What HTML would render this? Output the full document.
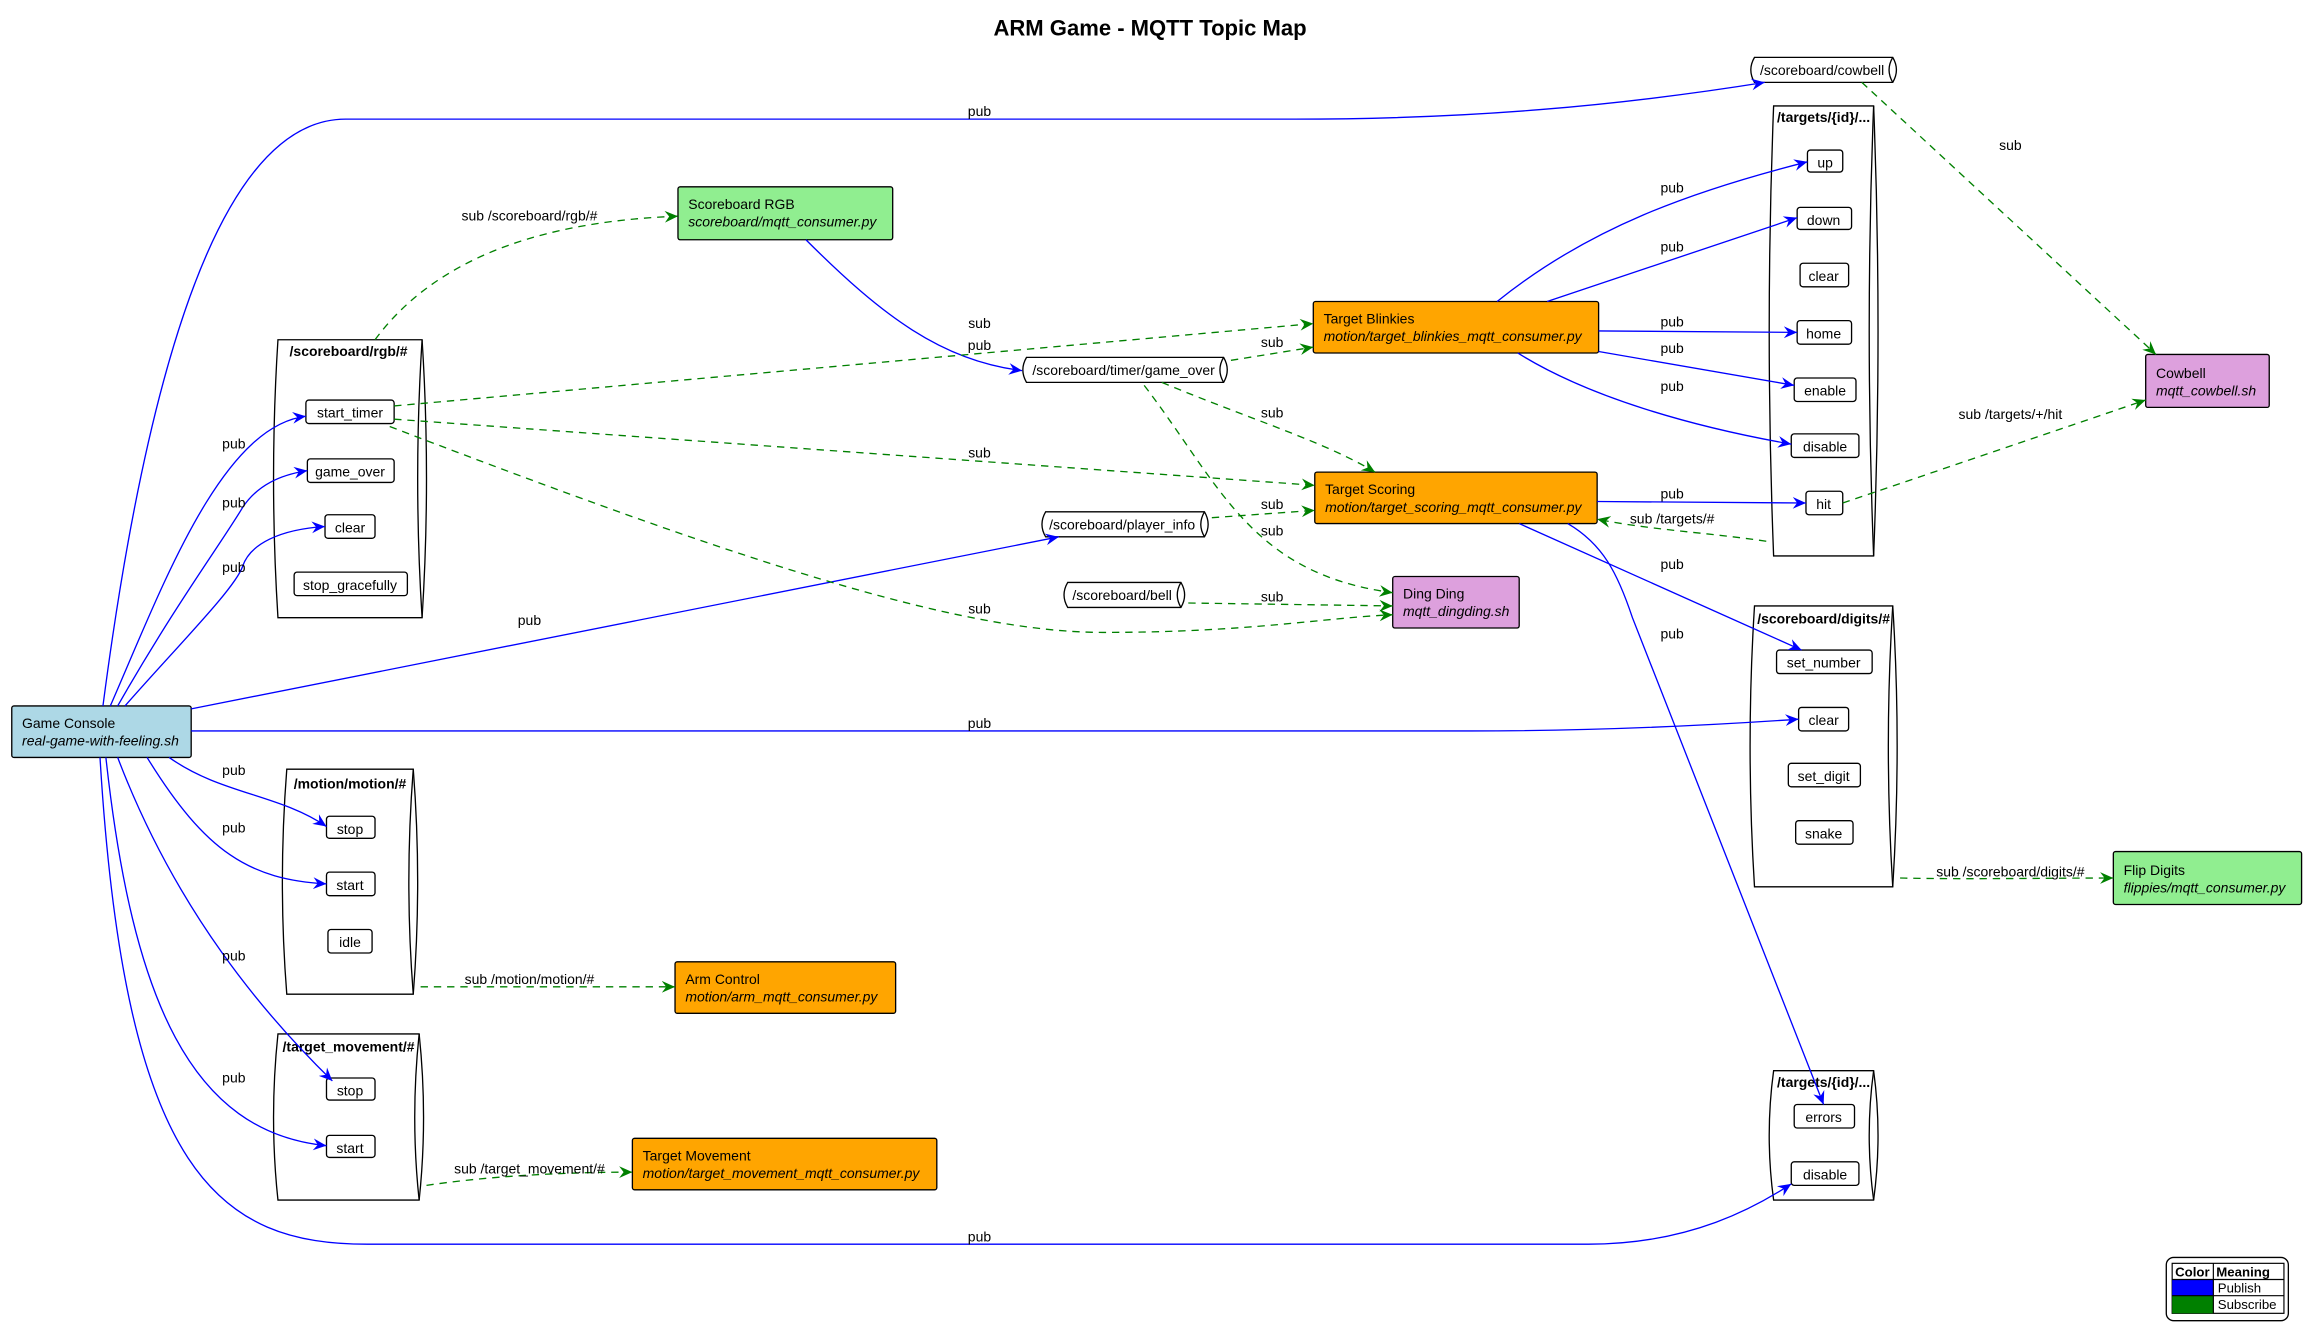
<!DOCTYPE html>
<html><head><meta charset="utf-8"><style>
html,body{margin:0;padding:0;background:#fff;width:2306px;height:1331px;overflow:hidden}
svg{display:block}
text{font-family:"Liberation Sans",sans-serif;font-size:9.5px;fill:#000}
.b{font-weight:bold}
.i{font-style:italic}
.pub{fill:none;stroke:#0000ff;stroke-width:0.9;marker-end:url(#ab)}
.sub{fill:none;stroke:#008000;stroke-width:0.9;stroke-dasharray:5,4;marker-end:url(#ag)}
.box{fill:#fff;stroke:#000;stroke-width:0.9}
.q{fill:#fff;stroke:#000;stroke-width:0.9}
</style></head><body>
<svg width="2306" height="1331" viewBox="0 0 1568 905" xmlns="http://www.w3.org/2000/svg">
<defs>
<marker id="ab" markerWidth="10" markerHeight="10" refX="9" refY="5" orient="auto" markerUnits="userSpaceOnUse"><path d="M0,1 L9,5 L0,9 L3,5 Z" fill="#0000ff"/></marker>
<marker id="ag" markerWidth="10" markerHeight="10" refX="9" refY="5" orient="auto" markerUnits="userSpaceOnUse"><path d="M0,1 L9,5 L0,9 L3,5 Z" fill="#008000"/></marker>
</defs>
<rect width="1568" height="905" fill="#fff"/>
<text x="782" y="24" text-anchor="middle" class="b" style="font-size:15px">ARM Game - MQTT Topic Map</text>

<g>
<path class="q" d="M189,231 L287,231 Q293,325 287,420 L189,420 Q183,325 189,231 Z"/><path class="q" d="M287,231 Q281,325 287,420"/>
<text x="237" y="242" text-anchor="middle" class="b">/scoreboard/rgb/#</text>

<path class="q" d="M1206,72 L1274,72 Q1280,225 1274,378 L1206,378 Q1200,225 1206,72 Z"/><path class="q" d="M1274,72 Q1268,225 1274,378"/>
<text x="1240" y="83" text-anchor="middle" class="b">/targets/{id}/...</text>

<path class="q" d="M1193,412 L1287,412 Q1293,507 1287,603 L1193,603 Q1187,507 1193,412 Z"/><path class="q" d="M1287,412 Q1281,507 1287,603"/>
<text x="1240" y="424" text-anchor="middle" class="b">/scoreboard/digits/#</text>

<path class="q" d="M195,523 L281,523 Q287,600 281,676 L195,676 Q189,600 195,523 Z"/><path class="q" d="M281,523 Q275,600 281,676"/>
<text x="238" y="536" text-anchor="middle" class="b">/motion/motion/#</text>

<path class="q" d="M189,703 L285,703 Q291,760 285,816 L189,816 Q183,760 189,703 Z"/><path class="q" d="M285,703 Q279,760 285,816"/>
<text x="237" y="715" text-anchor="middle" class="b">/target_movement/#</text>

<path class="q" d="M1206,728 L1274,728 Q1280,772 1274,816 L1206,816 Q1200,772 1206,728 Z"/><path class="q" d="M1274,728 Q1268,772 1274,816"/>
<text x="1240" y="739" text-anchor="middle" class="b">/targets/{id}/...</text>
</g>

<g>
<path class="q" d="M1193,39 L1287,39 Q1292,47.5 1287,56 L1193,56 Q1188,47.5 1193,39 Z"/><path class="q" d="M1287,39 Q1282,47.5 1287,56"/>
<text x="1239" y="51" text-anchor="middle">/scoreboard/cowbell</text>
<path class="q" d="M698,243 L832,243 Q837,251.5 832,260 L698,260 Q693,251.5 698,243 Z"/><path class="q" d="M832,243 Q827,251.5 832,260"/>
<text x="764" y="255" text-anchor="middle">/scoreboard/timer/game_over</text>
<path class="q" d="M711,348 L819,348 Q824,356.5 819,365 L711,365 Q706,356.5 711,348 Z"/><path class="q" d="M819,348 Q814,356.5 819,365"/>
<text x="763" y="360" text-anchor="middle">/scoreboard/player_info</text>
<path class="q" d="M726,396 L803,396 Q808,404.5 803,413 L726,413 Q721,404.5 726,396 Z"/><path class="q" d="M803,396 Q798,404.5 803,413"/>
<text x="763" y="408" text-anchor="middle">/scoreboard/bell</text>
</g>

<g>
<rect class="box" x="208" y="272" width="60" height="16" rx="2"/><text x="238" y="284" text-anchor="middle">start_timer</text>
<rect class="box" x="209" y="312" width="59" height="16" rx="2"/><text x="238" y="324" text-anchor="middle">game_over</text>
<rect class="box" x="221" y="350" width="34" height="16" rx="2"/><text x="238" y="362" text-anchor="middle">clear</text>
<rect class="box" x="200" y="389" width="77" height="16" rx="2"/><text x="238" y="401" text-anchor="middle">stop_gracefully</text>

<rect class="box" x="1229" y="102" width="24" height="15" rx="2"/><text x="1241" y="114" text-anchor="middle">up</text>
<rect class="box" x="1222" y="141" width="37" height="15" rx="2"/><text x="1240" y="153" text-anchor="middle">down</text>
<rect class="box" x="1224" y="179" width="33" height="16" rx="2"/><text x="1240" y="191" text-anchor="middle">clear</text>
<rect class="box" x="1222" y="218" width="37" height="16" rx="2"/><text x="1240" y="230" text-anchor="middle">home</text>
<rect class="box" x="1220" y="257" width="42" height="16" rx="2"/><text x="1241" y="269" text-anchor="middle">enable</text>
<rect class="box" x="1218" y="295" width="46" height="16" rx="2"/><text x="1241" y="307" text-anchor="middle">disable</text>
<rect class="box" x="1228" y="334" width="25" height="16" rx="2"/><text x="1240" y="346" text-anchor="middle">hit</text>

<rect class="box" x="1208" y="442" width="65" height="16" rx="2"/><text x="1240" y="454" text-anchor="middle">set_number</text>
<rect class="box" x="1223" y="481" width="34" height="16" rx="2"/><text x="1240" y="493" text-anchor="middle">clear</text>
<rect class="box" x="1216" y="519" width="49" height="16" rx="2"/><text x="1240" y="531" text-anchor="middle">set_digit</text>
<rect class="box" x="1221" y="558" width="39" height="16" rx="2"/><text x="1240" y="570" text-anchor="middle">snake</text>

<rect class="box" x="222" y="555" width="33" height="15" rx="2"/><text x="238" y="567" text-anchor="middle">stop</text>
<rect class="box" x="222" y="593" width="33" height="16" rx="2"/><text x="238" y="605" text-anchor="middle">start</text>
<rect class="box" x="223" y="632" width="30" height="16" rx="2"/><text x="238" y="644" text-anchor="middle">idle</text>

<rect class="box" x="222" y="733" width="33" height="15" rx="2"/><text x="238" y="745" text-anchor="middle">stop</text>
<rect class="box" x="222" y="772" width="33" height="15" rx="2"/><text x="238" y="784" text-anchor="middle">start</text>

<rect class="box" x="1220" y="751" width="41" height="16" rx="2"/><text x="1240" y="763" text-anchor="middle">errors</text>
<rect class="box" x="1218" y="790" width="46" height="16" rx="2"/><text x="1241" y="802" text-anchor="middle">disable</text>
</g>

<g stroke="#000" stroke-width="0.9">
<rect x="8" y="480" width="122" height="35" fill="#ADD8E6" rx="1.5"/>
<rect x="461" y="127" width="146" height="36" fill="#90EE90" rx="1.5"/>
<rect x="893" y="205" width="194" height="35" fill="#FFA500" rx="1.5"/>
<rect x="894" y="321" width="192" height="35" fill="#FFA500" rx="1.5"/>
<rect x="947" y="392" width="86" height="35" fill="#DDA0DD" rx="1.5"/>
<rect x="1459" y="241" width="84" height="36" fill="#DDA0DD" rx="1.5"/>
<rect x="1437" y="579" width="128" height="36" fill="#90EE90" rx="1.5"/>
<rect x="459" y="654" width="150" height="35" fill="#FFA500" rx="1.5"/>
<rect x="430" y="774" width="207" height="35" fill="#FFA500" rx="1.5"/>
</g>
<g>
<text x="15" y="495">Game Console</text><text x="15" y="507" class="i">real-game-with-feeling.sh</text>
<text x="468" y="142">Scoreboard RGB</text><text x="468" y="154" class="i">scoreboard/mqtt_consumer.py</text>
<text x="900" y="220">Target Blinkies</text><text x="900" y="232" class="i">motion/target_blinkies_mqtt_consumer.py</text>
<text x="901" y="336">Target Scoring</text><text x="901" y="348" class="i">motion/target_scoring_mqtt_consumer.py</text>
<text x="954" y="407">Ding Ding</text><text x="954" y="419" class="i">mqtt_dingding.sh</text>
<text x="1466" y="257">Cowbell</text><text x="1466" y="269" class="i">mqtt_cowbell.sh</text>
<text x="1444" y="595">Flip Digits</text><text x="1444" y="607" class="i">flippies/mqtt_consumer.py</text>
<text x="466" y="669">Arm Control</text><text x="466" y="681" class="i">motion/arm_mqtt_consumer.py</text>
<text x="437" y="789">Target Movement</text><text x="437" y="801" class="i">motion/target_movement_mqtt_consumer.py</text>
</g>

<path class="pub" d="M70,480 C100,250 150,81 235,81 L880,81 C1000,81 1100,72 1200,56"/>
<path class="pub" d="M75,480 C110,400 150,290 208,283"/>
<path class="pub" d="M80,480 C120,410 150,370 165,345 C175,330 190,323 209,320"/>
<path class="pub" d="M85,480 C120,440 160,400 165,385 C170,370 190,360 221,358"/>
<path class="pub" d="M130,482 L720,365"/>
<path class="pub" d="M130,497 L1000,497 C1100,497 1180,492 1223,489"/>
<path class="pub" d="M115,515 C150,540 190,540 222,562"/>
<path class="pub" d="M100,515 C140,580 170,598 222,601"/>
<path class="pub" d="M80,515 C120,620 180,690 226,735"/>
<path class="pub" d="M72,515 C90,680 130,770 222,779"/>
<path class="pub" d="M68,515 C85,800 150,846 250,846 L1080,846 C1150,846 1195,820 1218,805"/>
<path class="pub" d="M548,163 C600,215 640,245 695,252"/>
<path class="pub" d="M1018,205 C1080,155 1150,130 1229,110"/>
<path class="pub" d="M1052,205 L1222,148"/>
<path class="pub" d="M1087,225 L1222,226"/>
<path class="pub" d="M1087,239 L1220,262"/>
<path class="pub" d="M1032,240 C1080,270 1150,290 1218,302"/>
<path class="pub" d="M1086,341 L1228,342"/>
<path class="pub" d="M1033,356 L1225,442"/>
<path class="pub" d="M1066,356 C1090,370 1100,390 1110,420 L1240,751"/>

<path class="sub" d="M255,231 C300,170 380,150 461,147"/>
<path class="sub" d="M268,276 L893,220"/>
<path class="sub" d="M268,285 L894,330"/>
<path class="sub" d="M265,290 C500,380 650,430 750,430 C850,430 900,420 947,418"/>
<path class="sub" d="M837,245 L893,236"/>
<path class="sub" d="M790,260 C850,285 900,300 935,321"/>
<path class="sub" d="M778,262 C830,330 850,390 947,403"/>
<path class="sub" d="M824,352 L894,347"/>
<path class="sub" d="M808,410 L947,412"/>
<path class="sub" d="M1201,368 C1160,362 1120,360 1086,353"/>
<path class="sub" d="M1266,56 L1466,241"/>
<path class="sub" d="M1253,342 L1459,272"/>
<path class="sub" d="M1292,597 C1340,598 1390,597 1437,597"/>
<path class="sub" d="M286,671 L459,671"/>
<path class="sub" d="M290,806 C330,800 380,797 430,797"/>

<g text-anchor="middle">
<text x="666" y="79">pub</text>
<text x="159" y="305">pub</text>
<text x="159" y="345">pub</text>
<text x="159" y="389">pub</text>
<text x="360" y="425">pub</text>
<text x="666" y="495">pub</text>
<text x="159" y="527">pub</text>
<text x="159" y="566">pub</text>
<text x="159" y="653">pub</text>
<text x="159" y="736">pub</text>
<text x="666" y="844">pub</text>
<text x="666" y="238">pub</text>
<text x="360" y="150">sub /scoreboard/rgb/#</text>
<text x="666" y="223">sub</text>
<text x="666" y="311">sub</text>
<text x="666" y="417">sub</text>
<text x="865" y="236">sub</text>
<text x="865" y="284">sub</text>
<text x="865" y="346">sub</text>
<text x="865" y="364">sub</text>
<text x="865" y="409">sub</text>
<text x="1137" y="131">pub</text>
<text x="1137" y="171">pub</text>
<text x="1137" y="222">pub</text>
<text x="1137" y="240">pub</text>
<text x="1137" y="266">pub</text>
<text x="1137" y="339">pub</text>
<text x="1137" y="356">sub /targets/#</text>
<text x="1137" y="387">pub</text>
<text x="1137" y="434">pub</text>
<text x="1367" y="102">sub</text>
<text x="1367" y="285">sub /targets/+/hit</text>
<text x="1367" y="596">sub /scoreboard/digits/#</text>
<text x="360" y="669">sub /motion/motion/#</text>
<text x="360" y="798">sub /target_movement/#</text>
</g>

<rect x="1473" y="855" width="83" height="43" rx="5" fill="#fff" stroke="#000" stroke-width="0.9"/>
<rect x="1477" y="859" width="76" height="34" fill="#fff" stroke="#000" stroke-width="0.8"/>
<rect x="1477" y="870" width="28" height="11" fill="#0000ff"/>
<rect x="1477" y="881" width="28" height="12" fill="#008000"/>
<line x1="1505" y1="859" x2="1505" y2="893" stroke="#000" stroke-width="0.8"/>
<line x1="1477" y1="870" x2="1553" y2="870" stroke="#000" stroke-width="0.8"/>
<line x1="1477" y1="881" x2="1553" y2="881" stroke="#000" stroke-width="0.8"/>
<text x="1479" y="868" class="b" style="font-size:9px">Color</text>
<text x="1507" y="868" class="b" style="font-size:9px">Meaning</text>
<text x="1508" y="879" style="font-size:9px">Publish</text>
<text x="1508" y="890" style="font-size:9px">Subscribe</text>
</svg>
</body></html>
